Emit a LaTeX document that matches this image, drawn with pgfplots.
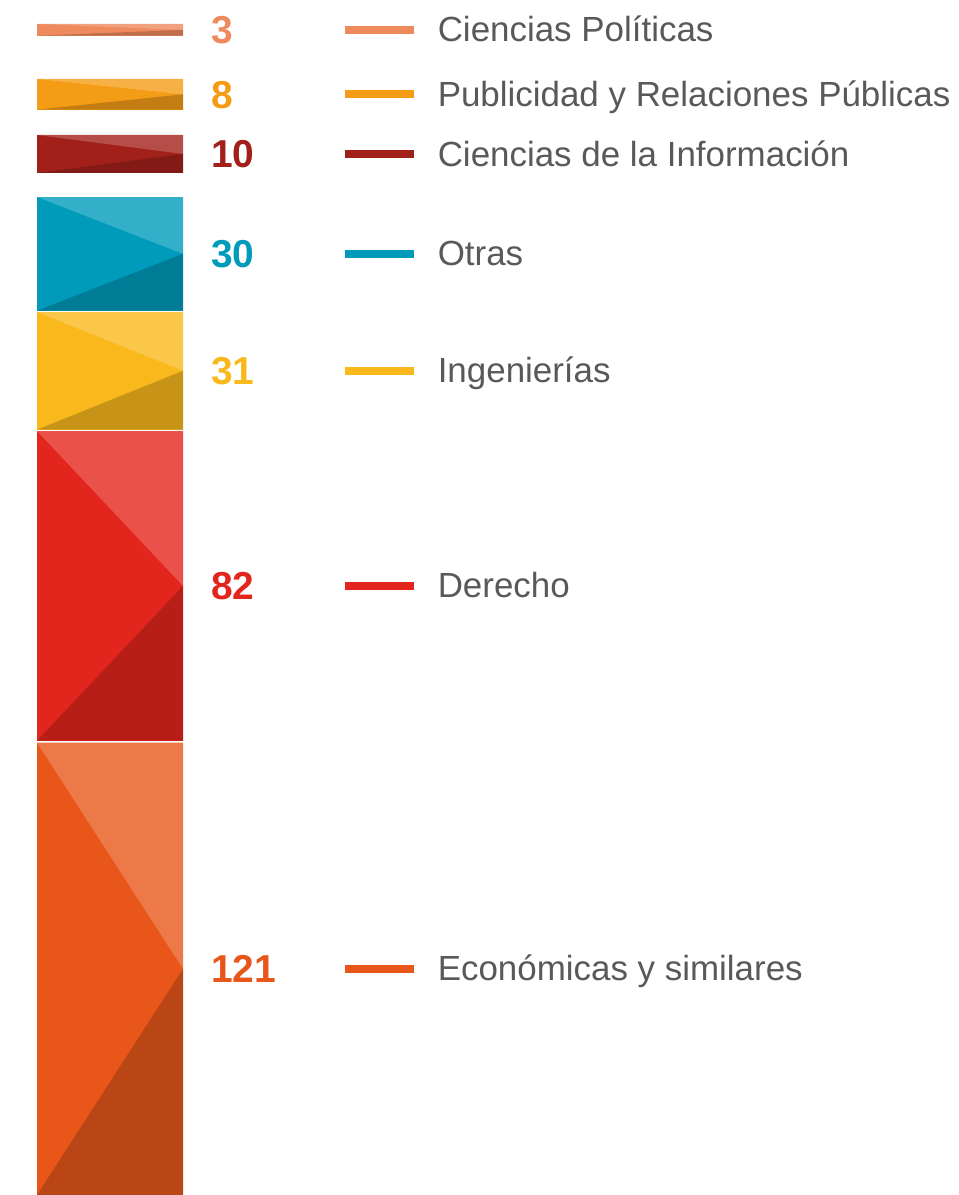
\documentclass[border=0pt]{standalone}
\usepackage{pgfplots}
\pgfplotsset{compat=1.18}
\usepackage{fontspec}
\setmainfont{Liberation Sans}
\definecolor{cPol}{HTML}{EF8A5E}
\definecolor{cPub}{HTML}{F59C17}
\definecolor{cInf}{HTML}{A2201A}
\definecolor{cOtr}{HTML}{009BBB}
\definecolor{cIng}{HTML}{F9B91D}
\definecolor{cDer}{HTML}{E3261D}
\definecolor{cEco}{HTML}{E8561A}
\definecolor{txt}{HTML}{595959}
% #1 colour, #2 top, #3 bottom, #4 middle, #5 value, #6 label
\newcommand{\seg}[6]{%
  \addplot[fill=#1, draw=none] coordinates {(37,#2) (183,#2) (183,#3) (37,#3)};
  \addplot[fill=#1!80!white, draw=none] coordinates {(37,#2) (183,#2) (183,#4)};
  \addplot[fill=#1!80!black, draw=none] coordinates {(37,#3) (183,#3) (183,#4)};
  \addplot[#1, line width=6pt] coordinates {(344.5,#4) (413.5,#4)};
  \node[anchor=base west, inner sep=0pt, text=#1, font=\fontsize{29.2pt}{32pt}\selectfont\bfseries] at (axis cs:211,{#4+13.9}) {#5};
  \node[anchor=base west, inner sep=0pt, text=txt, font=\fontsize{26.2pt}{30pt}\selectfont] at (axis cs:437.5,{#4+12}) {#6};
}
\begin{document}
\begin{tikzpicture}
\begin{axis}[scale only axis, width=718.5pt, height=896.25pt,
  xmin=0, xmax=958, ymin=0, ymax=1195, y dir=reverse,
  axis lines=none, clip=false]
\path (rel axis cs:0,0) rectangle (rel axis cs:1,1);
\seg{cPol}{24}{35.7}{29.9}{3}{Ciencias Políticas}
\seg{cPub}{79}{109.7}{94.3}{8}{Publicidad y Relaciones Públicas}
\seg{cInf}{135}{173}{154}{10}{Ciencias de la Información}
\seg{cOtr}{197}{310.7}{253.8}{30}{Otras}
\seg{cIng}{312}{429.7}{370.8}{31}{Ingenierías}
\seg{cDer}{431}{740.7}{585.9}{82}{Derecho}
\seg{cEco}{742.7}{1195}{968.9}{121}{Económicas y similares}
\end{axis}
\end{tikzpicture}
\end{document}
